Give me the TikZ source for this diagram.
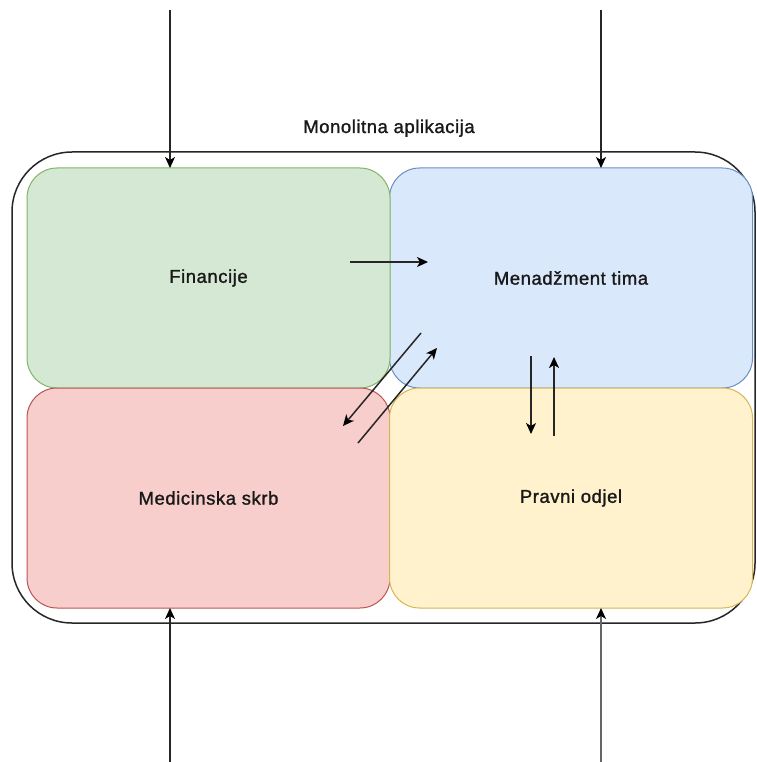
\documentclass[tikz,border=0pt]{standalone}
\usepackage{fontspec}
\newfontfamily\labfont[LetterSpace=3,FakeBold=1.3]{Liberation Sans}
\usetikzlibrary{arrows.meta}
\definecolor{gfill}{HTML}{D5E8D4}\definecolor{gdraw}{HTML}{82B366}
\definecolor{bfill}{HTML}{DAE8FC}\definecolor{bdraw}{HTML}{6C8EBF}
\definecolor{rfill}{HTML}{F8CECC}\definecolor{rdraw}{HTML}{B85450}
\definecolor{yfill}{HTML}{FFF2CC}\definecolor{ydraw}{HTML}{D6B656}
\tikzset{
  area/.style={rectangle, rounded corners=30pt, minimum width=363pt, minimum height=220pt,
    inner sep=0pt, outer sep=0pt, line width=1pt,
    font=\labfont\fontsize{18.5pt}{22pt}\selectfont, text=black!90},
  conn/.style={line width=1.5pt, draw=black!85, -{Stealth[length=11pt,width=10pt,inset=3pt,color=black]}},
}
\begin{document}
\begin{tikzpicture}[x=1pt,y=-1pt]
\useasboundingbox (0,0) rectangle (756,762);
% outer container
\draw[line width=1.5pt, draw=black!85, rounded corners=60pt] (12,152) rectangle (755,623);
\node[anchor=base, text=black!90, font=\labfont\fontsize{18.5pt}{22pt}\selectfont] (title) at (389,133) {Monolitna aplikacija};
% areas
\node[area, fill=bfill, draw=bdraw] (men) at (571,278) {Menadžment tima};
\node[area, fill=gfill, draw=gdraw] (fin) at (208.5,278) {Financije};
\node[area, fill=rfill, draw=rdraw] (med) at (208.5,498) {Medicinska skrb};
\node[area, fill=yfill, draw=ydraw] (pra) at (571,498) {Pravni odjel};
% free ends
\coordinate (tl) at (170,10);
\coordinate (tr) at (601,10);
\coordinate (bl) at (170,762);
\coordinate (br) at (601,762);
\coordinate (h1) at (350,262);
\coordinate (h2) at (428,262);
\coordinate (d1s) at (421,333);
\coordinate (d1e) at (343,426);
\coordinate (d2s) at (358,443);
\coordinate (d2e) at (437,348);
\coordinate (v1s) at (531,356);
\coordinate (v1e) at (531,434);
\coordinate (v2s) at (554,436);
\coordinate (v2e) at (554,357);
% connectors
\draw[conn] (tl) -- (fin.north -| tl);
\draw[conn] (tr) -- (men.north -| tr);
\draw[conn] (bl) -- (med.south -| bl);
\draw[conn, draw=black!60] (br) -- (pra.south -| br);
\draw[conn] (h1) -- (h2);
\draw[conn] (d1s) -- (d1e);
\draw[conn] (d2s) -- (d2e);
\draw[conn] (v1s) -- (v1e);
\draw[conn] (v2s) -- (v2e);
\end{tikzpicture}
\end{document}
